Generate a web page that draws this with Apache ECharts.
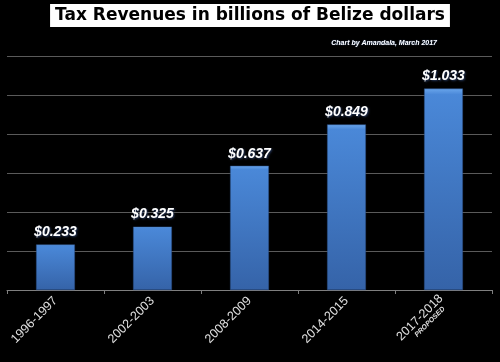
<!DOCTYPE html>
<html><head><meta charset="utf-8">
<script src="https://cdn.jsdelivr.net/npm/echarts@6/dist/echarts.min.js"></script>
<style>html,body{margin:0;padding:0;background:#000;}#c{width:500px;height:362px;}</style>
</head><body><div id="c"></div>
<script>
const categories = ['1996-1997', '2002-2003', '2008-2009', '2014-2015', '2017-2018'];
const revenues = [0.233, 0.325, 0.637, 0.849, 1.033];
const yTicks = [0, 0.2, 0.4, 0.6, 0.8, 1.0, 1.2];
const titleText = 'Tax Revenues in billions of Belize dollars';
const creditText = 'Chart by Amandala, March 2017';

const chart = echarts.init(document.getElementById('c'), null, {renderer: 'canvas'});
chart.setOption({
  backgroundColor: '#000',
  animation: false,
  title: [{
    text: titleText,
    left: 'center', top: 4,
    backgroundColor: '#fff',
    padding: [1, 5, 0, 5],
    textStyle: {color: '#000', fontFamily: 'DejaVu Sans', fontWeight: 'bold', fontSize: 17, lineHeight: 22}
  }, {
    text: creditText,
    right: 58, top: 35,
    textStyle: {color: '#fff', fontFamily: 'Liberation Sans', fontStyle: 'italic', fontWeight: 'bold', fontSize: 7,
      textShadowColor: 'rgba(60,100,170,0.8)', textShadowBlur: 1}
  }],
  grid: {left: 7, right: 8, top: 56, bottom: 72, containLabel: false},
  xAxis: {
    type: 'category',
    data: categories,
    axisLine: {lineStyle: {color: '#7f7f7f', width: 1}},
    axisTick: {show: true, length: 4, lineStyle: {color: '#7f7f7f'}},
    axisLabel: {
      rotate: 45, color: '#e0e0e0', fontFamily: 'Liberation Sans', fontSize: 12.5, margin: 9,
      formatter: function (v, i) { return i === 4 ? v + '\n{p|PROPOSED}' : v; },
      rich: {p: {fontSize: 7, fontStyle: 'italic', fontWeight: 'bold', color: '#e0e0e0', fontFamily: 'Liberation Sans', align: 'right', padding:[0,6,0,0]}}
    }
  },
  yAxis: {
    type: 'value', min: yTicks[0], max: yTicks[yTicks.length - 1], interval: 0.2,
    axisLabel: {show: false}, axisLine: {show: false}, axisTick: {show: false},
    splitLine: {lineStyle: {color: '#5a5a5a', width: 1}}
  },
  series: [{
    type: 'bar',
    data: revenues,
    barWidth: '40%',
    itemStyle: {
      color: new echarts.graphic.LinearGradient(0, 0, 0, 1, [
        {offset: 0, color: '#6aa6ec'},
        {offset: 0.03, color: '#4a88d8'},
        {offset: 1, color: '#3563a8'}
      ]),
      borderColor: '#2a4f86', borderWidth: 0.5
    },
    label: {
      show: true, position: 'top', distance: 5,
      formatter: function (p) { return '$' + p.value.toFixed(3); },
      color: '#fff', fontFamily: 'Liberation Sans', fontStyle: 'italic', fontWeight: 'bold', fontSize: 14,
      textShadowColor: 'rgba(40,60,100,0.9)', textShadowBlur: 2, textShadowOffsetX: 1, textShadowOffsetY: 1
    }
  }]
});
</script></body></html>
